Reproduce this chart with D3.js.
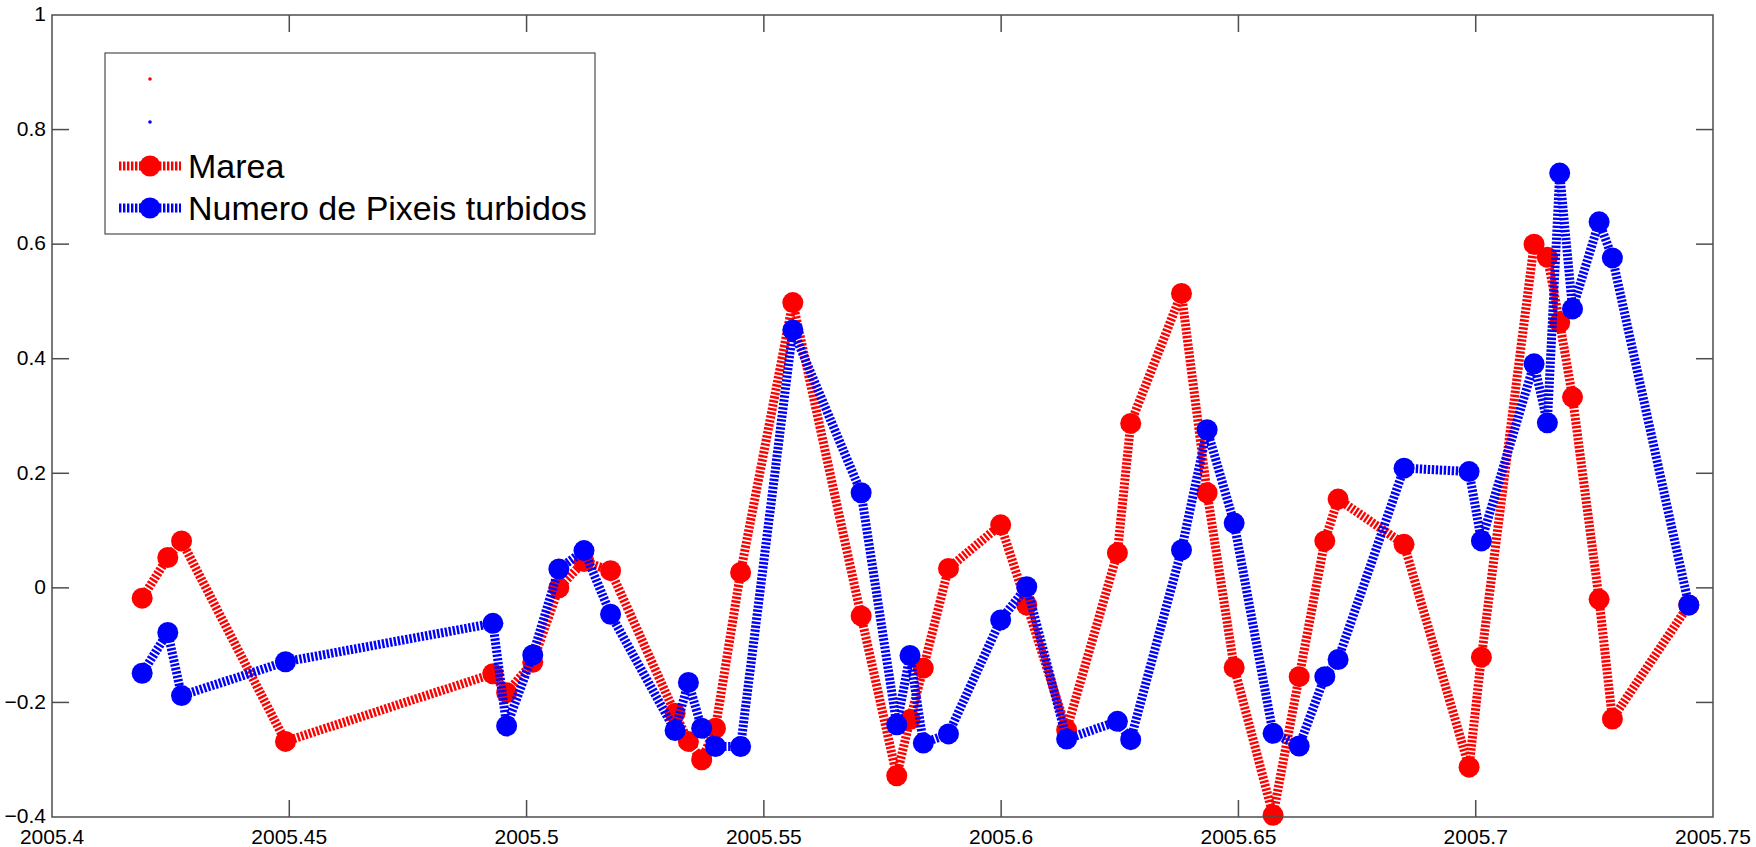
<!DOCTYPE html>
<html>
<head>
<meta charset="utf-8">
<script src="https://cdn.jsdelivr.net/npm/d3@7"></script>
<style>
  body { margin: 0; background: #fff; }
  svg { display: block; font-family: "Liberation Sans", Arial, sans-serif; }
</style>
</head>
<body>
<svg id="chart"></svg>
<script>
const fechas = [2005.4190, 2005.4244, 2005.4273, 2005.4492, 2005.4929, 2005.4958, 2005.5013, 2005.5068,
  2005.5121, 2005.5177, 2005.5313, 2005.5341, 2005.5369, 2005.5398, 2005.5451, 2005.5561, 2005.5705,
  2005.5780, 2005.5808, 2005.5836, 2005.5889, 2005.5999, 2005.6054, 2005.6138, 2005.6245, 2005.6273,
  2005.6380, 2005.6434, 2005.6491, 2005.6573, 2005.6628, 2005.6682, 2005.6710, 2005.6849, 2005.6986,
  2005.7012, 2005.7123, 2005.7151, 2005.7177, 2005.7204, 2005.7260, 2005.7288, 2005.7449];

const marea = [-0.018, 0.053, 0.082, -0.268, -0.150, -0.183, -0.130, 0.000, 0.046, 0.030,
  -0.219, -0.268, -0.300, -0.245, 0.027, 0.498, -0.049, -0.328, -0.230, -0.140,
  0.034, 0.110, -0.030, -0.248, 0.061, 0.287, 0.514, 0.166, -0.139, -0.397,
  -0.155, 0.082, 0.155, 0.076, -0.313, -0.121, 0.600, 0.577, 0.463, 0.333,
  -0.020, -0.229, -0.030];

const pixeis = [-0.149, -0.078, -0.188, -0.129, -0.062, -0.241, -0.117, 0.033, 0.065, -0.046,
  -0.249, -0.165, -0.245, -0.277, -0.277, 0.450, 0.166, -0.239, -0.118, -0.271,
  -0.255, -0.056, 0.002, -0.264, -0.233, -0.265, 0.066, 0.276, 0.113, -0.254,
  -0.276, -0.155, -0.125, 0.209, 0.203, 0.082, 0.391, 0.288, 0.724, 0.487,
  0.639, 0.576, -0.030];

const xTicks = [2005.4, 2005.45, 2005.5, 2005.55, 2005.6, 2005.65, 2005.7, 2005.75];
const yTicks = [-0.4, -0.2, 0, 0.2, 0.4, 0.6, 0.8, 1];
const series = [
  { name: "Marea", values: marea, color: "#ff0000" },
  { name: "Numero de Pixeis turbidos", values: pixeis, color: "#0000ff" }
];

const width = 1756, height = 847;
const margin = { top: 15, right: 43, bottom: 30, left: 52 };
const tickLen = 17;
const axisColor = "#4d4d4d";

const svg = d3.select("#chart").attr("width", width).attr("height", height);

const x = d3.scaleLinear().domain([2005.4, 2005.75]).range([margin.left, width - margin.right]);
const y = d3.scaleLinear().domain([-0.4, 1]).range([height - margin.bottom, margin.top]);

const line = d3.line().x((d, i) => x(fechas[i])).y(d => y(d));

// lines and markers, blue drawn on top
series.forEach(s => {
  const g = svg.append("g");
  g.append("path")
    .datum(s.values)
    .attr("d", line)
    .attr("fill", "none")
    .attr("stroke", s.color)
    .attr("stroke-width", 9)
    .attr("stroke-dasharray", "2.4 1.6")
    .attr("stroke-linejoin", "round");
  g.selectAll("circle")
    .data(s.values)
    .join("circle")
    .attr("cx", (d, i) => x(fechas[i]))
    .attr("cy", d => y(d))
    .attr("r", 10.5)
    .attr("fill", s.color);
});

// box with inward ticks on all sides
const [x0, x1] = x.range();
const [y1, y0] = y.range();
const axes = svg.append("g").attr("stroke", axisColor).attr("stroke-width", 1.5);
axes.append("rect")
  .attr("x", x0).attr("y", y0)
  .attr("width", x1 - x0).attr("height", y1 - y0)
  .attr("fill", "none");

axes.selectAll(".xt")
  .data(xTicks.slice(1, -1))
  .join("g")
  .each(function (d) {
    const sel = d3.select(this);
    sel.append("line").attr("x1", x(d)).attr("x2", x(d)).attr("y1", y1).attr("y2", y1 - tickLen);
    sel.append("line").attr("x1", x(d)).attr("x2", x(d)).attr("y1", y0).attr("y2", y0 + tickLen);
  });

axes.selectAll(".yt")
  .data(yTicks.slice(1, -1))
  .join("g")
  .each(function (d) {
    const sel = d3.select(this);
    sel.append("line").attr("x1", x0).attr("x2", x0 + tickLen).attr("y1", y(d)).attr("y2", y(d));
    sel.append("line").attr("x1", x1).attr("x2", x1 - tickLen).attr("y1", y(d)).attr("y2", y(d));
  });

svg.append("g")
  .selectAll("text")
  .data(xTicks)
  .join("text")
  .attr("x", d => x(d))
  .attr("y", y1 + 27)
  .attr("text-anchor", "middle")
  .attr("font-size", 21)
  .attr("fill", "#000")
  .text(d => d3.format("")(d));

svg.append("g")
  .selectAll("text")
  .data(yTicks)
  .join("text")
  .attr("x", x0 - 6)
  .attr("y", d => y(d))
  .attr("dy", "0.3em")
  .attr("text-anchor", "end")
  .attr("font-size", 21)
  .attr("fill", "#000")
  .text(d => d3.format("")(d));

// legend: two empty point entries, then the two series
const legend = svg.append("g");
legend.append("rect")
  .attr("x", 105).attr("y", 53)
  .attr("width", 490).attr("height", 181)
  .attr("fill", "#fff")
  .attr("stroke", axisColor)
  .attr("stroke-width", 1.2);

const dotRows = [{ color: "#ff0000", cy: 79 }, { color: "#0000ff", cy: 122 }];
legend.selectAll(".dot")
  .data(dotRows)
  .join("circle")
  .attr("cx", 150).attr("cy", d => d.cy)
  .attr("r", 1.8)
  .attr("fill", d => d.color);

const rows = legend.selectAll(".row")
  .data(series)
  .join("g")
  .attr("transform", (d, i) => `translate(0,${166 + i * 42})`);
rows.append("line")
  .attr("x1", 119).attr("x2", 181)
  .attr("stroke", d => d.color)
  .attr("stroke-width", 9)
  .attr("stroke-dasharray", "2.4 1.6");
rows.append("circle")
  .attr("cx", 150).attr("r", 10.5)
  .attr("fill", d => d.color);
rows.append("text")
  .attr("x", 188)
  .attr("dy", "0.36em")
  .attr("font-size", 34)
  .attr("fill", "#000")
  .text(d => d.name);
</script>
</body>
</html>
